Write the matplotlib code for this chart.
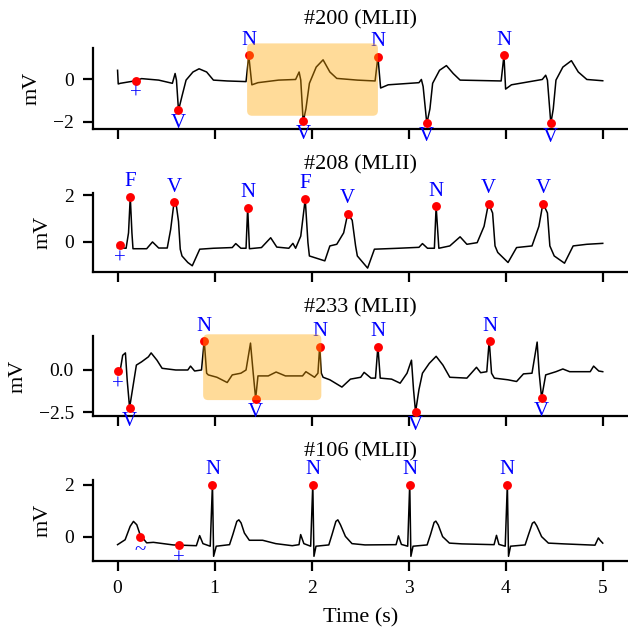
import matplotlib
matplotlib.use("Agg")
import matplotlib.pyplot as plt
from matplotlib.patches import FancyBboxPatch

plt.rcParams['font.family'] = ['Liberation Serif', 'DejaVu Serif']

# ---------------- data ----------------
titles = ['#200 (MLII)', '#208 (MLII)', '#233 (MLII)', '#106 (MLII)']

rec200_t = [0, 0.007, 0.028, 0.187, 0.247, 0.424, 0.565, 0.593, 0.607, 0.628, 0.664, 0.706,
            0.777, 0.840, 0.918, 0.988, 1.130, 1.324, 1.352, 1.384, 1.447, 1.659, 1.835, 1.871,
            1.888, 1.913, 1.941, 1.977, 2.047, 2.118, 2.188, 2.259, 2.471, 2.654, 2.683, 2.711,
            2.789, 3.106, 3.131, 3.149, 3.187, 3.219, 3.247, 3.318, 3.389, 3.459, 3.530, 3.953,
            3.982, 3.999, 4.059, 4.377, 4.412, 4.430, 4.465, 4.490, 4.518, 4.589, 4.677, 4.748,
            4.836, 5.0]
rec200_mv = [0.41, -0.23, -0.20, -0.08, 0.02, -0.05, -0.20, 0.26, -0.05, -1.47, -0.80, -0.05,
             0.33, 0.48, 0.33, -0.05, -0.09, -0.12, 1.11, -0.27, -0.17, -0.05, -0.02, 0.33,
             -0.05, -2.00, -1.40, -0.20, 0.56, 0.90, 0.33, 0.03, -0.05, -0.09, 1.05, -0.42,
             -0.27, -0.17, -0.02, -0.35, -2.08, -1.40, -0.20, 0.41, 0.63, 0.26, -0.05, -0.09,
             1.11, -0.47, -0.27, -0.02, 0.18, -0.05, -2.08, -1.40, -0.05, 0.56, 0.86, 0.33,
             -0.02, -0.08]
rec200_beat_t = [0.187, 0.628, 1.352, 1.913, 2.683, 3.187, 3.982, 4.465]
rec200_beat_mv = [-0.08, -1.44, 1.11, -1.97, 1.05, -2.05, 1.11, -2.08]
rec200_labels = ['+', 'V', 'N', 'V', 'N', 'V', 'N', 'V']

rec208_t = [0, 0.088, 0.113, 0.131, 0.148, 0.159, 0.300, 0.360, 0.424, 0.512, 0.547, 0.582,
            0.607, 0.628, 0.646, 0.664, 0.724, 0.770, 0.847, 0.988, 1.182, 1.218, 1.271, 1.324,
            1.341, 1.359, 1.483, 1.578, 1.641, 1.765, 1.807, 1.835, 1.888, 1.934, 1.962, 1.977,
            2.083, 2.136, 2.188, 2.259, 2.330, 2.372, 2.418, 2.453, 2.471, 2.577, 2.647, 2.894,
            3.106, 3.142, 3.194, 3.265, 3.283, 3.311, 3.424, 3.530, 3.600, 3.706, 3.777, 3.823,
            3.865, 3.890, 3.918, 4.024, 4.112, 4.271, 4.342, 4.384, 4.430, 4.455, 4.500, 4.606,
            4.695, 4.836, 5.0]
rec208_mv = [-0.25, -0.28, 0.38, 1.93, 0.38, -0.30, -0.30, -0.01, -0.27, -0.27, 0.52, 1.69,
             1.51, 0.87, -0.32, -0.61, -0.89, -1.03, -0.32, -0.28, -0.25, -0.08, -0.28, -0.28,
             1.46, -0.30, -0.25, 0.17, -0.23, -0.28, -0.07, -0.28, 0.24, 1.83, -0.04, -0.61,
             -0.75, -0.82, -0.18, -0.11, 0.38, 1.20, 0.92, -0.18, -0.61, -1.13, -0.32, -0.28,
             -0.24, -0.08, -0.28, -0.28, 1.51, -0.28, -0.18, 0.21, -0.11, -0.04, 0.66, 1.65,
             1.23, -0.18, -0.46, -0.89, -0.25, -0.18, 0.66, 1.65, 1.23, -0.18, -0.61, -0.92,
             -0.18, -0.11, -0.07]
rec208_beat_t = [0.028, 0.131, 0.582, 1.341, 1.934, 2.372, 3.283, 3.823, 4.384]
rec208_beat_mv = [-0.15, 1.93, 1.69, 1.46, 1.83, 1.20, 1.51, 1.62, 1.62]
rec208_labels = ['+', 'F', 'V', 'N', 'F', 'V', 'N', 'V', 'V']

rec233_t = [0.007, 0.028, 0.053, 0.081, 0.099, 0.124, 0.159, 0.194, 0.247, 0.318, 0.346, 0.406,
            0.459, 0.600, 0.724, 0.752, 0.794, 0.865, 0.893, 0.918, 0.935, 1.024, 1.130, 1.182,
            1.271, 1.324, 1.370, 1.398, 1.423, 1.447, 1.553, 1.634, 1.730, 1.906, 1.941, 2.030,
            2.065, 2.083, 2.100, 2.118, 2.188, 2.312, 2.400, 2.506, 2.541, 2.612, 2.658, 2.683,
            2.707, 2.824, 2.912, 2.983, 3.029, 3.050, 3.071, 3.106, 3.142, 3.212, 3.283, 3.353,
            3.424, 3.600, 3.699, 3.742, 3.805, 3.830, 3.854, 3.883, 4.024, 4.112, 4.183, 4.271,
            4.324, 4.345, 4.370, 4.412, 4.518, 4.589, 4.659, 4.871, 4.906, 4.959, 5.0]
rec233_mv = [-0.08, 0.0, 0.87, 1.01, -0.58, -2.23, -0.97, 0.29, 0.48, 0.78, 1.01, 0.58,
             0.10, 0.0, 0.0, 0.23, -0.06, 0.0, 1.74, -0.19, -0.29, -0.43, -0.74, -0.29,
             -0.19, 0.0, 1.59, -0.19, -1.69, -0.35, -0.35, -0.12, -0.35, -0.35, -0.10, -0.43,
             -0.19, 1.40, -0.19, -0.43, -0.58, -1.01, -0.54, -0.43, -0.14, -0.48, -0.48, 1.40,
             -0.48, -0.54, -0.78, -0.19, 0.58, -1.16, -2.48, -1.16, -0.19, 0.39, 0.81, 0.29,
             -0.43, -0.48, 0.16, -0.16, -0.10, 1.74, -0.19, -0.48, -0.58, -0.68, -0.23, -0.19,
             1.65, -0.19, -1.65, -0.29, -0.10, 0.06, -0.10, -0.10, 0.23, -0.06, -0.10]
rec233_beat_t = [0.007, 0.124, 0.893, 1.423, 2.083, 2.683, 3.071, 3.837, 4.370]
rec233_beat_mv = [-0.08, -2.23, 1.71, -1.69, 1.36, 1.36, -2.48, 1.71, -1.65]
rec233_labels = ['+', 'V', 'N', 'V', 'N', 'N', 'V', 'N', 'V']

rec106_t = [0, 0.078, 0.13, 0.164, 0.198, 0.232, 0.30, 0.369, 0.573, 0.812, 0.846, 0.88,
            0.955, 0.978, 0.99, 1.017, 1.154, 1.188, 1.229, 1.25, 1.273, 1.307, 1.358, 1.495,
            1.63, 1.80, 1.87, 1.887, 1.92, 1.99, 2.012, 2.024, 2.045, 2.177, 2.21, 2.25,
            2.27, 2.297, 2.348, 2.416, 2.55, 2.87, 2.895, 2.925, 2.99, 3.011, 3.023, 3.045,
            3.19, 3.225, 3.262, 3.28, 3.305, 3.35, 3.42, 3.55, 3.88, 3.905, 3.93, 3.995,
            4.017, 4.029, 4.05, 4.2, 4.235, 4.275, 4.295, 4.32, 4.37, 4.44, 4.6, 4.92,
            4.955, 4.975, 5.0]
rec106_mv = [-0.31, -0.12, 0.40, 0.59, 0.46, 0.08, -0.24, -0.22, -0.32, -0.35, 0.04, -0.27,
             -0.37, 2.05, -0.76, -0.37, -0.31, 0.08, 0.59, 0.65, 0.53, 0.14, -0.14, -0.14,
             -0.27, -0.35, -0.31, 0.08, -0.27, -0.37, 2.05, -0.76, -0.37, -0.32, 0.08, 0.59,
             0.65, 0.46, 0.01, -0.27, -0.32, -0.31, 0.03, -0.30, -0.37, 2.05, -0.76, -0.37,
             -0.32, 0.08, 0.55, 0.60, 0.45, 0.0, -0.25, -0.28, -0.31, 0.05, -0.30, -0.37,
             2.05, -0.76, -0.37, -0.32, 0.08, 0.52, 0.57, 0.42, 0.0, -0.25, -0.28, -0.33,
             -0.05, -0.15, -0.25]
rec106_beat_t = [0.233, 0.635, 0.978, 2.012, 3.011, 4.017]
rec106_beat_mv = [-0.03, -0.33, 2.0, 2.0, 2.0, 2.0]
rec106_labels = ['~', '+', 'N', 'N', 'N', 'N']

# highlighted segments (t0, t1, mv0, mv1); None where absent
highlight = [(1.335, 2.683, -1.72, 1.67), None, (0.882, 2.100, -1.78, 2.11), None]

# ---------------- figure ----------------
W, H, DPI = 628, 633, 200
fig = plt.figure(figsize=(W / DPI, H / DPI), dpi=DPI)

ax_left, ax_right = 93.3, 627.0
ax_rows = [(48.3, 129.0), (192.7, 272.3), (336.0, 416.0), (480.0, 560.7)]
ylims = [(-2.34, 1.44), (-1.31, 2.10), (-2.72, 2.01), (-0.93, 2.19)]
yticks = [[-2, 0], [0, 2], [-2.5, 0.0], [0, 2]]

traces = [(rec200_t, rec200_mv), (rec208_t, rec208_mv), (rec233_t, rec233_mv), (rec106_t, rec106_mv)]
beats = [(rec200_beat_t, rec200_beat_mv, rec200_labels),
         (rec208_beat_t, rec208_beat_mv, rec208_labels),
         (rec233_beat_t, rec233_beat_mv, rec233_labels),
         (rec106_beat_t, rec106_beat_mv, rec106_labels)]

for i in range(4):
    top, bot = ax_rows[i]
    ax = fig.add_axes([ax_left / W, 1 - bot / H, (ax_right - ax_left) / W, (bot - top) / H])
    t, mv = traces[i]
    ax.plot(t, mv, color='black', lw=0.55, zorder=2)
    bt, bv, bl = beats[i]
    ax.plot(bt, bv, 'o', color='red', ms=3.2, mew=0, zorder=3)
    for x, y, lab in zip(bt, bv, bl):
        if y > 0.5:
            ax.annotate(lab, (x, y), xytext=(0, 2.0), textcoords='offset points',
                        ha='center', va='bottom', color='blue', fontsize=7.5,
                        annotation_clip=False, zorder=4)
        else:
            ax.annotate(lab, (x, y), xytext=(0, -1.5), textcoords='offset points',
                        ha='center', va='top', color='blue', fontsize=7.5,
                        annotation_clip=False, zorder=4)
    ax.set_xlim(-0.25, 5.25)
    ax.set_ylim(*ylims[i])
    ax.set_yticks(yticks[i])
    ax.set_xticks([0, 1, 2, 3, 4, 5])
    ax.tick_params(labelsize=7)
    if i < 3:
        ax.tick_params(labelbottom=False)
    else:
        ax.set_xlabel('Time (s)', fontsize=8)
    ax.set_ylabel('mV', fontsize=8)
    ax.set_title(titles[i], fontsize=8, pad=8.5)
    for s in ['top', 'right']:
        ax.spines[s].set_visible(False)

    if highlight[i] is not None:
        x0, x1, y0, y1 = highlight[i]
        ppx = (ax_right - ax_left) / 5.5
        ppy = (bot - top) / (ylims[i][1] - ylims[i][0])
        r = 5.0 / ppx
        patch = FancyBboxPatch((x0, y0), x1 - x0, y1 - y0,
                               boxstyle=f"round,pad=0,rounding_size={r}",
                               mutation_aspect=ppx / ppy,
                               facecolor='orange', edgecolor='none', alpha=0.4,
                               zorder=5, clip_on=False)
        ax.add_patch(patch)

fig.savefig('out.png', dpi=DPI)
